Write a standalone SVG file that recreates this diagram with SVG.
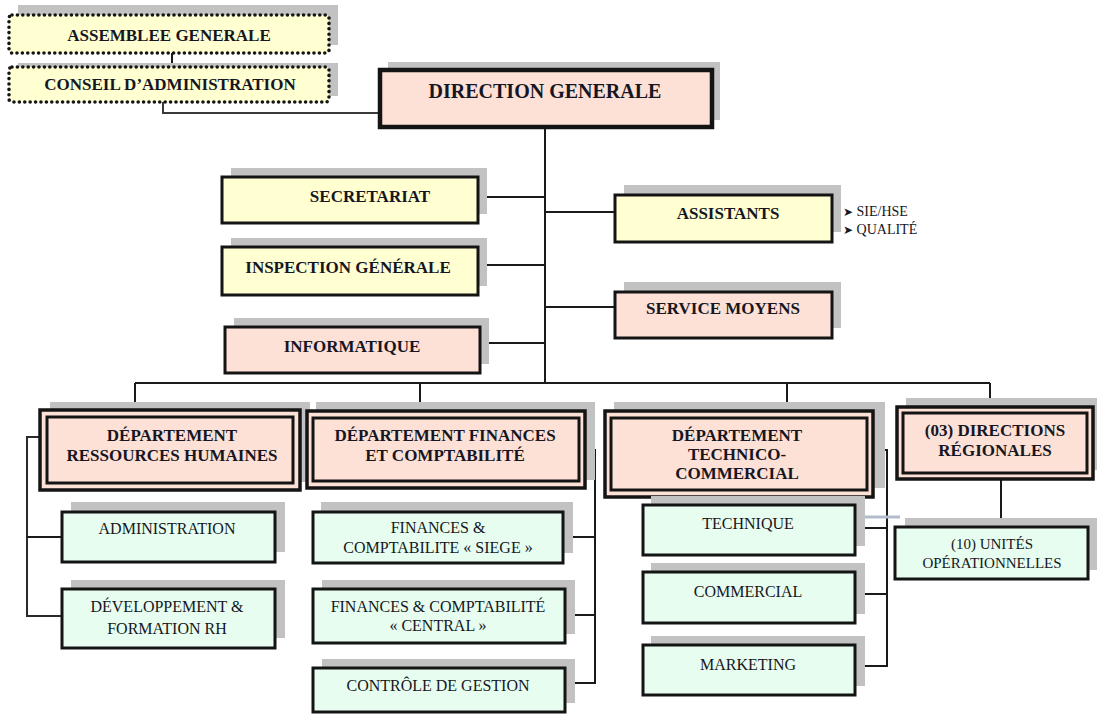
<svg xmlns="http://www.w3.org/2000/svg" width="1097" height="717" viewBox="0 0 1097 717">
  <style>
    .shadow { fill: #c2c2c2; }
    .yellow { fill: #ffffd2; }
    .pink { fill: #fde0d6; }
    .green { fill: #e6fdef; }
    .box { stroke: #141414; stroke-width: 3; }
    .boxdg { stroke: #141414; stroke-width: 4.5; }
    .outer { stroke: #141414; stroke-width: 3.5; }
    .inner { fill: none; stroke: #141414; stroke-width: 3; }
    .dotted { stroke: #141414; stroke-width: 3.6; stroke-dasharray: 0 5.4; stroke-linecap: round; }
    .t { font-family: "Liberation Serif", "Times New Roman", serif; fill: #161622; text-anchor: middle; }
    .b17 { font-size: 17px; font-weight: bold; }
    .b20 { font-size: 20px; font-weight: bold; }
    .r16 { font-size: 16px; }
    .r15 { font-size: 15px; }
    .small { font-family: "Liberation Serif", "DejaVu Serif", serif; font-size: 14px; fill: #161622; }
    .bullet { font-family: "DejaVu Sans", sans-serif; font-size: 12px; }
    .link { fill: none; stroke: #1a1a1a; stroke-width: 2; }
  </style>

  <!-- connectors -->
  <g id="connectors" class="link">
    <path d="M172 53 V79"/>
    <path d="M163 102 V113 H380" stroke="#3a3a3a"/>
    <path d="M545 128 V383"/>
    <path d="M478 197 H545"/>
    <path d="M478 265 H545"/>
    <path d="M480 343 H545"/>
    <path d="M545 212 H615"/>
    <path d="M545 307 H615"/>
    <path d="M135 383 H990"/>
    <path d="M135 383 V410"/>
    <path d="M420 383 V411"/>
    <path d="M787 383 V411"/>
    <path d="M990 383 V407"/>
    <path d="M1001 479 V527"/>
    <path d="M40 437 H27 V616 H62" stroke="#2a2a2a"/>
    <path d="M27 537 H62"/>
    <path d="M585 450 H595 V683 H565"/>
    <path d="M563 537 H595"/>
    <path d="M565 615 H595"/>
    <path d="M873 450 H887 V666 H855"/>
    <path d="M855 528 H887"/>
    <path d="M855 594 H887"/>
    <path d="M862 517 H900" stroke="#b4bccb" stroke-width="3"/>
  </g>

  <!-- governance -->
  <g id="assemblee-generale">
    <rect class="shadow" x="18" y="5" width="320" height="40"/>
    <rect class="yellow dotted" x="9" y="15" width="320" height="38" rx="3"/>
    <text class="t b17" x="169" y="41">ASSEMBLEE  GENERALE</text>
  </g>
  <g id="conseil-administration">
    <rect class="shadow" x="18" y="63" width="320" height="33"/>
    <rect class="yellow dotted" x="9" y="67" width="320" height="35" rx="3"/>
    <text class="t b17" x="170" y="90">CONSEIL D’ADMINISTRATION</text>
  </g>

  <g id="direction-generale">
    <rect class="shadow" x="388" y="62" width="332" height="58"/>
    <rect class="pink boxdg" x="380" y="70" width="332" height="57"/>
    <text class="t b20" x="545" y="98">DIRECTION GENERALE</text>
  </g>

  <!-- staff units -->
  <g id="secretariat">
    <rect class="shadow" x="231" y="168" width="256" height="46"/>
    <rect class="yellow box" x="222" y="177" width="256" height="46"/>
    <text class="t b17" x="370" y="202">SECRETARIAT</text>
  </g>
  <g id="inspection-generale">
    <rect class="shadow" x="231" y="238" width="256" height="48"/>
    <rect class="yellow box" x="222" y="247" width="256" height="48"/>
    <text class="t b17" x="348" y="273">INSPECTION GÉNÉRALE</text>
  </g>
  <g id="informatique">
    <rect class="shadow" x="234" y="318" width="255" height="46"/>
    <rect class="pink box" x="225" y="327" width="255" height="46"/>
    <text class="t b17" x="352" y="352">INFORMATIQUE</text>
  </g>
  <g id="assistants">
    <rect class="shadow" x="624" y="185" width="217" height="47"/>
    <rect class="yellow box" x="615" y="195" width="217" height="47"/>
    <text class="t b17" x="728" y="219">ASSISTANTS</text>
    <text class="small" x="843" y="216"><tspan class="bullet">➤</tspan> SIE/HSE</text>
    <text class="small" x="843" y="234"><tspan class="bullet">➤</tspan> QUALITÉ</text>
  </g>
  <g id="service-moyens">
    <rect class="shadow" x="624" y="282" width="217" height="46"/>
    <rect class="pink box" x="615" y="292" width="217" height="46"/>
    <text class="t b17" x="723" y="314">SERVICE MOYENS</text>
  </g>

  <!-- departments -->
  <g id="dept-rh">
    <rect class="shadow" x="50" y="402" width="260" height="80"/>
    <rect class="pink outer" x="40" y="410" width="260" height="80"/>
    <rect class="inner" x="47" y="417" width="246" height="66"/>
    <text class="t b17" x="172" y="441">DÉPARTEMENT</text>
    <text class="t b17" x="172" y="461">RESSOURCES HUMAINES</text>
  </g>
  <g id="dept-finances">
    <rect class="shadow" x="316" y="402" width="279" height="78"/>
    <rect class="pink outer" x="307" y="411" width="278" height="77"/>
    <rect class="inner" x="313" y="418" width="266" height="63"/>
    <text class="t b17" x="445" y="441">DÉPARTEMENT  FINANCES</text>
    <text class="t b17" x="445" y="461">ET COMPTABILITÉ</text>
  </g>
  <g id="dept-technico-commercial">
    <rect class="shadow" x="614" y="402" width="271" height="86"/>
    <rect class="pink outer" x="605" y="411" width="268" height="86"/>
    <rect class="inner" x="611" y="418" width="256" height="72"/>
    <text class="t b17" x="737" y="441">DÉPARTEMENT</text>
    <text class="t b17" x="737" y="460">TECHNICO-</text>
    <text class="t b17" x="737" y="479">COMMERCIAL</text>
  </g>
  <g id="directions-regionales">
    <rect class="shadow" x="906" y="398" width="191" height="72"/>
    <rect class="pink outer" x="897" y="407" width="196" height="72"/>
    <rect class="inner" x="903" y="413" width="184" height="60"/>
    <text class="t b17" x="995" y="436">(03) DIRECTIONS</text>
    <text class="t b17" x="995" y="456">RÉGIONALES</text>
  </g>

  <!-- services -->
  <g id="administration">
    <rect class="shadow" x="71" y="502" width="214" height="50"/>
    <rect class="green box" x="62" y="512" width="213" height="50"/>
    <text class="t r16" x="167" y="534">ADMINISTRATION</text>
  </g>
  <g id="developpement-formation">
    <rect class="shadow" x="71" y="580" width="214" height="58"/>
    <rect class="green box" x="62" y="589" width="213" height="59"/>
    <text class="t r16" x="167" y="612">DÉVELOPPEMENT &amp;</text>
    <text class="t r16" x="167" y="634">FORMATION RH</text>
  </g>
  <g id="finances-siege">
    <rect class="shadow" x="321" y="502" width="252" height="51"/>
    <rect class="green box" x="313" y="512" width="250" height="51"/>
    <text class="t r16" x="438" y="533">FINANCES  &amp;</text>
    <text class="t r16" x="438" y="553">COMPTABILITE « SIEGE »</text>
  </g>
  <g id="finances-central">
    <rect class="shadow" x="322" y="580" width="253" height="54"/>
    <rect class="green box" x="313" y="589" width="252" height="54"/>
    <text class="t r16" x="438" y="612">FINANCES &amp; COMPTABILITÉ</text>
    <text class="t r16" x="438" y="631">« CENTRAL »</text>
  </g>
  <g id="controle-gestion">
    <rect class="shadow" x="322" y="659" width="253" height="44"/>
    <rect class="green box" x="313" y="668" width="252" height="44"/>
    <text class="t r16" x="438" y="691">CONTRÔLE DE GESTION</text>
  </g>
  <g id="technique">
    <rect class="shadow" x="651" y="496" width="214" height="50"/>
    <rect class="green box" x="643" y="505" width="212" height="50"/>
    <text class="t r16" x="748" y="529">TECHNIQUE</text>
  </g>
  <g id="commercial">
    <rect class="shadow" x="651" y="563" width="214" height="51"/>
    <rect class="green box" x="643" y="572" width="212" height="51"/>
    <text class="t r16" x="748" y="597">COMMERCIAL</text>
  </g>
  <g id="marketing">
    <rect class="shadow" x="651" y="636" width="214" height="50"/>
    <rect class="green box" x="643" y="645" width="212" height="50"/>
    <text class="t r16" x="748" y="670">MARKETING</text>
  </g>
  <g id="unites-operationnelles">
    <rect class="shadow" x="905" y="518" width="192" height="52"/>
    <rect class="green box" x="895" y="527" width="193" height="52"/>
    <text class="t r15" x="992" y="549">(10) UNITÉS</text>
    <text class="t r15" x="992" y="568">OPÉRATIONNELLES</text>
  </g>
</svg>
